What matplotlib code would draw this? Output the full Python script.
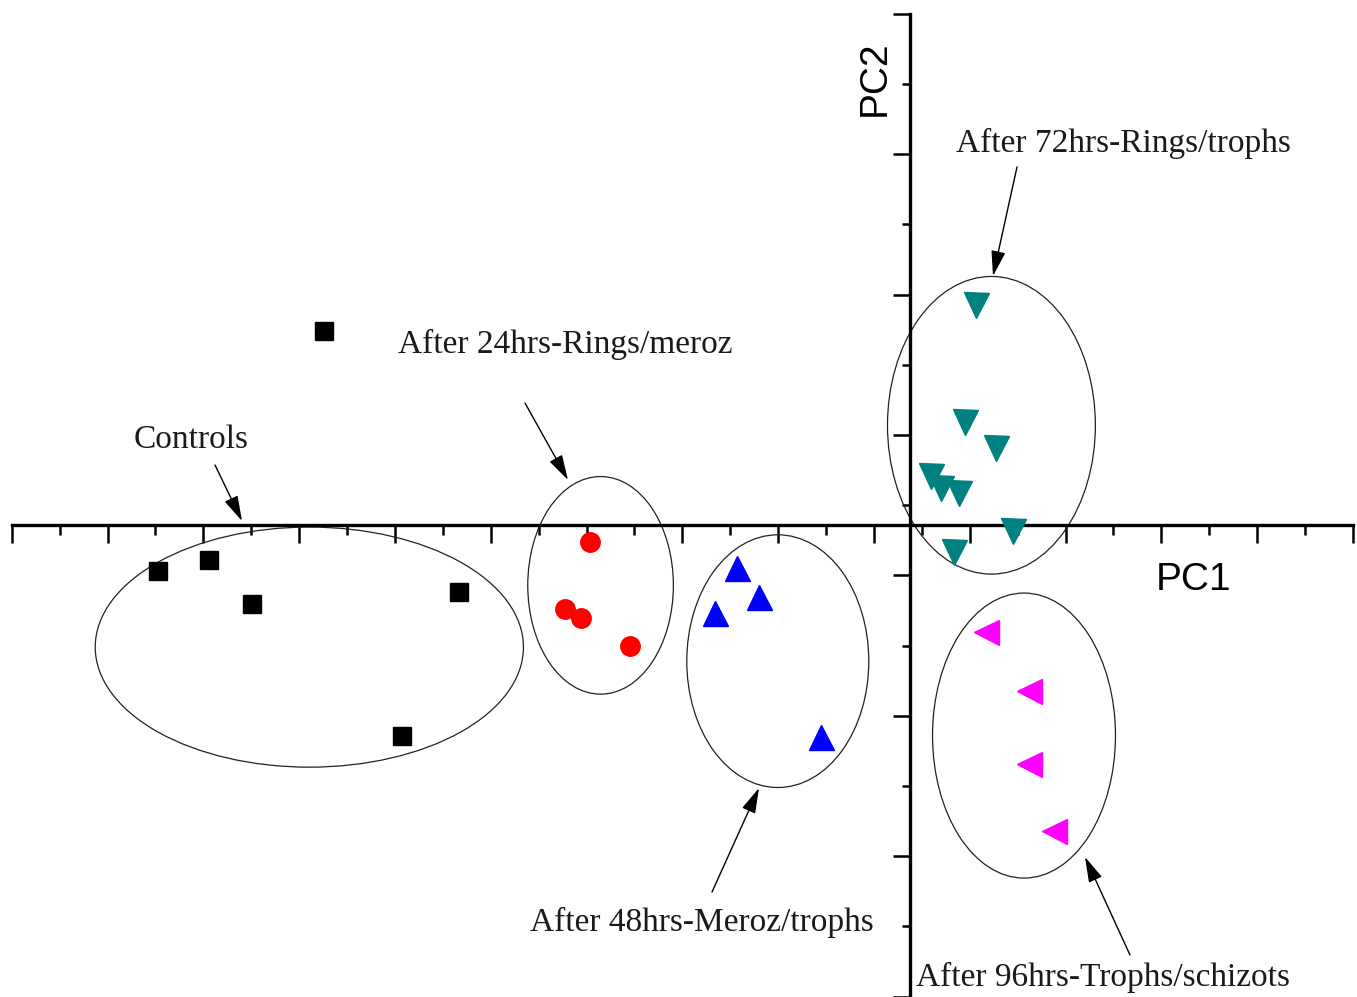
import numpy as np
import matplotlib
matplotlib.use("Agg")
import matplotlib.pyplot as plt
from matplotlib.patches import Ellipse
from matplotlib.ticker import FixedLocator

# ---- data (PC scores) ----
ctrl_x = [-6.12, -7.85, -7.32, -6.87, -4.71, -5.30]
ctrl_y = [1.38, -0.33, -0.25, -0.56, -0.48, -1.50]

h24_x = [-3.34, -3.60, -3.43, -2.92]
h24_y = [-0.12, -0.60, -0.66, -0.86]

h48_x = [-1.81, -1.58, -2.04, -0.93]
h48_y = [-0.31, -0.51, -0.63, -1.51]

h72_x = [0.69, 0.57, 0.90, 0.22, 0.32, 0.51, 1.07, 0.46]
h72_y = [1.57, 0.73, 0.55, 0.35, 0.26, 0.23, -0.04, -0.19]

h96_x = [0.79, 1.24, 1.24, 1.50]
h96_y = [-0.76, -1.18, -1.70, -2.18]

group_labels = ["Controls", "After 24hrs-Rings/meroz", "After 48hrs-Meroz/trophs",
                "After 72hrs-Rings/trophs", "After 96hrs-Trophs/schizots"]

# group ellipses: centre x, centre y, width, height (PC units)
ell_cx = [-6.27, -3.23, -1.38, 0.85, 1.19]
ell_cy = [-0.87, -0.43, -0.97, 0.71, -1.50]
ell_w = [4.47, 1.52, 1.90, 2.17, 1.91]
ell_h = [1.71, 1.55, 1.80, 2.12, 2.03]

# ---- figure ----
W, H = 1357, 997
fig = plt.figure(figsize=(W / 100, H / 100), dpi=100)
ax = fig.add_axes([0, 0, 1, 1])
x0, x1 = -9.499, 4.666
y0, y1 = -3.362, 3.739
ax.set_xlim(x0, x1)
ax.set_ylim(y0, y1)


def px(x, y):
    """pixel position -> data coordinates (layout helper for annotations)"""
    return x0 + x / W * (x1 - x0), y1 - y / H * (y1 - y0)


# spines crossing at origin
for s in ["top", "right"]:
    ax.spines[s].set_visible(False)
ax.spines["left"].set_position(("data", 0))
ax.spines["bottom"].set_position(("data", 0))
ax.spines["left"].set_linewidth(2.4)
ax.spines["bottom"].set_linewidth(2.4)
ax.spines["bottom"].set_bounds(-9.376, 4.624)
ax.spines["left"].set_bounds(-3.362, 3.641)

ax.xaxis.set_major_locator(FixedLocator(np.arange(-9.376, 4.7, 1.0)))
ax.xaxis.set_minor_locator(FixedLocator(np.arange(-8.876, 4.2, 1.0)))
ax.yaxis.set_major_locator(FixedLocator(np.arange(-3.359, 3.7, 1.0)))
ax.yaxis.set_minor_locator(FixedLocator(np.arange(-2.859, 3.2, 1.0)))
ax.tick_params(axis="x", which="major", direction="out", length=13, width=1.8, labelbottom=False)
ax.tick_params(axis="x", which="minor", direction="out", length=7, width=1.8)
ax.tick_params(axis="y", which="major", direction="out", length=12, width=1.8, labelleft=False)
ax.tick_params(axis="y", which="minor", direction="out", length=6, width=1.8)

# ellipses
for cx, cy, w, h in zip(ell_cx, ell_cy, ell_w, ell_h):
    ax.add_patch(Ellipse((cx, cy), w, h, fill=False, lw=0.9, ec="#222222", zorder=2))

# points
ax.plot(ctrl_x, ctrl_y, ls="none", marker="s", ms=13, color="black", zorder=3)
ax.plot(h24_x, h24_y, ls="none", marker="o", ms=14, color="#ff0000", zorder=3)
ax.plot(h48_x, h48_y, ls="none", marker="^", ms=18, color="#0000ff", zorder=3)
ax.plot(h72_x, h72_y, ls="none", marker="v", ms=18, color="#008080", zorder=3)
ax.plot(h96_x, h96_y, ls="none", marker="<", ms=18, color="#ff00ff", zorder=3)

# axis titles
ax.text(*px(1193, 580), "PC1", fontsize=28, family="Liberation Sans", ha="center", va="center")
ax.text(*px(875, 78), "PC2", fontsize=28, family="Liberation Sans", ha="center", va="center",
        rotation=90)

# group annotations
label_pos = [(191, 440), (565, 344), (702, 922), (1123, 143), (1103, 977)]
arrow_from = [(215, 465), (525, 403), (712, 892), (1017, 167), (1130, 955)]
arrow_to = [(242, 521), (568, 480), (759, 788), (993, 276), (1085, 857)]
for lab, lp, af, at in zip(group_labels, label_pos, arrow_from, arrow_to):
    ax.text(*px(*lp), lab, fontsize=24, family="Liberation Serif", color="#1a1a1a",
            ha="center", va="center")
    ax.annotate("", xy=px(*at), xytext=px(*af),
                arrowprops=dict(arrowstyle="-|>,head_length=0.6,head_width=0.17",
                                lw=1.0, color="black",
                                mutation_scale=26, shrinkA=0, shrinkB=0))

fig.savefig("out.png", dpi=100)
